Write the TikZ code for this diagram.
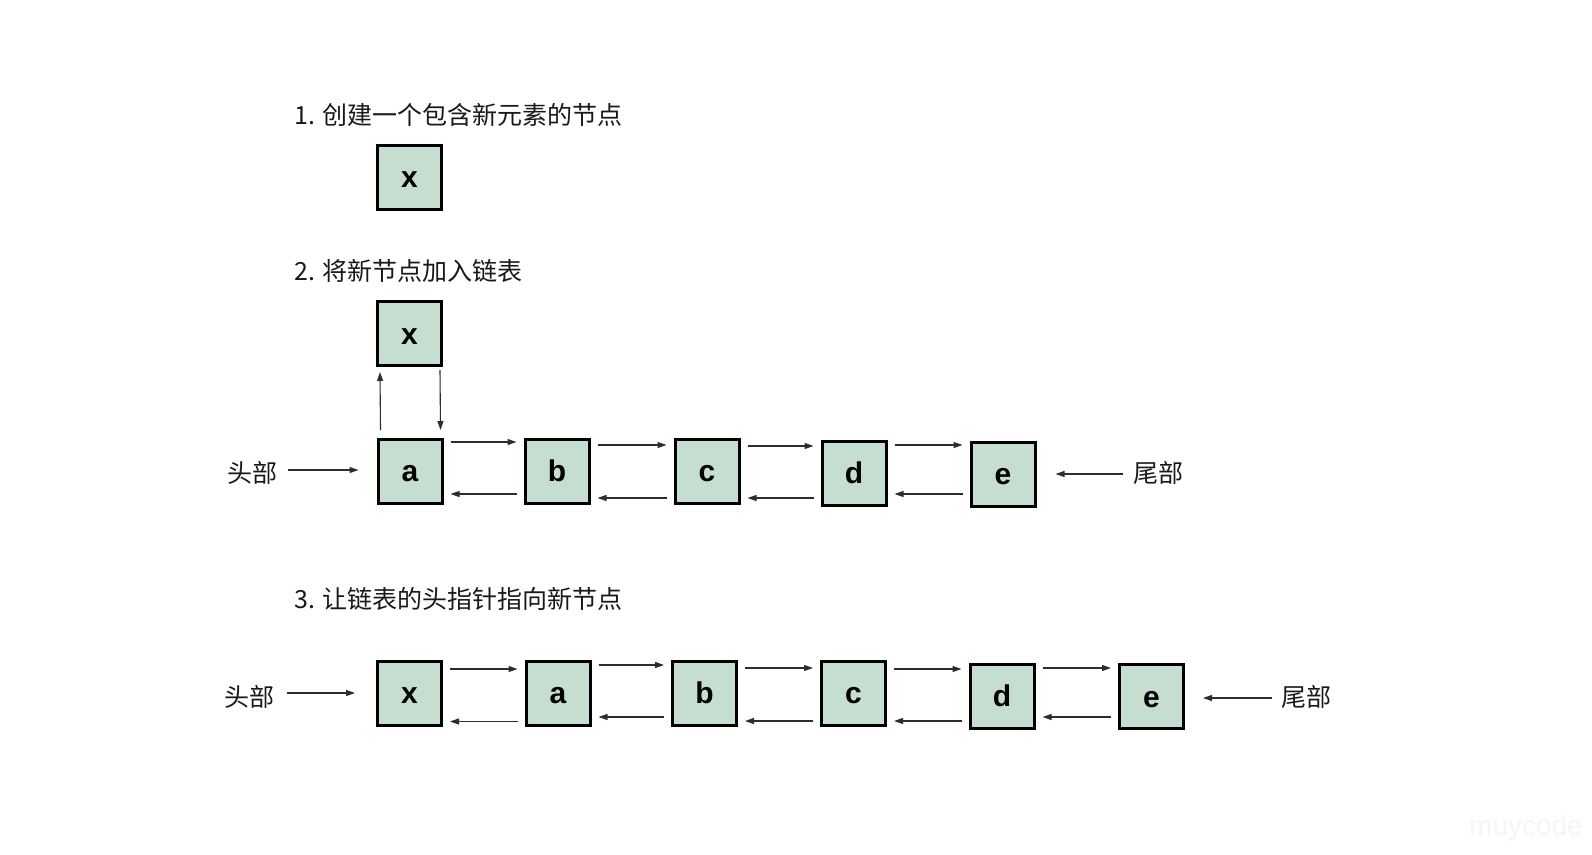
\documentclass[tikz,border=0pt]{standalone}
\usepackage{fontspec}
\usetikzlibrary{arrows.meta,calc}
\newfontfamily\cjk{Noto Sans CJK SC}
\newfontfamily\labfont{Liberation Sans}
\definecolor{boxfill}{RGB}{197,222,208}
\definecolor{arrowcol}{RGB}{45,45,45}
\tikzset{
  listbox/.style={draw=black, line width=3pt, fill=boxfill, minimum size=64pt, inner sep=0pt,
    text height=21pt, text depth=0pt,
    font=\labfont\bfseries\fontsize{30}{30}\selectfont},
  titletext/.style={anchor=west, inner sep=0pt, text=black!90, font=\cjk\fontsize{25}{25}\selectfont},
  sidetext/.style={inner sep=0pt, text=black!90, font=\cjk\fontsize{25}{25}\selectfont},
  arr/.style={draw=arrowcol, line width=1.1pt, -{Triangle[length=9pt,width=6pt]}}
}
% forward arrow: src, dst, offset below src top
\newcommand\fwd[3]{\draw[arr] ($(#1.north east)+(7,#3)$) -- ($(#1.north east -| #2.west)+(-7,#3)$);}
% backward arrow: left box, right box, offset above left box bottom
\newcommand\bwd[3]{\draw[arr] ($(#1.south east -| #2.west)+(-7,-#3)$) -- ($(#1.south east)+(7,-#3)$);}
\begin{document}
\begin{tikzpicture}[x=1pt,y=-1pt]
\useasboundingbox (0,0) rectangle (1592,854);
\fill[white] (0,0) rectangle (1592,854);

% step 1
\node[titletext] (t1) at (294,115) {1. 创建一个包含新元素的节点};
\node[listbox] (x1) at (409.5,177) {x};

% step 2
\node[titletext] (t2) at (294,271) {2. 将新节点加入链表};
\node[listbox] (x2) at (409.5,333.5) {x};
\node[listbox] (a2) at (410,471) {a};
\node[listbox] (b2) at (557,471) {b};
\node[listbox] (c2) at (707,471) {c};
\node[listbox] (d2) at (854,473) {d};
\node[listbox] (e2) at (1003,474) {e};

\draw[arr] ($(a2.north west)+(4,-7.5)$) -- ($(x2.south west)+(4,5)$);
\draw[arr] ($(x2.south east)+(-3,3)$) -- ($(a2.north east)+(-3,-7.5)$);
\fwd{a2}{b2}{4.5}
\fwd{b2}{c2}{7.5}
\fwd{c2}{d2}{8.5}
\fwd{d2}{e2}{5.5}
\bwd{a2}{b2}{10.5}
\bwd{b2}{c2}{6.5}
\bwd{c2}{d2}{6.5}
\bwd{d2}{e2}{12.5}

\node[sidetext] (h2) at (252,473) {头部};
\coordinate (h2t) at (288,470);
\draw[arr] (h2t) -- ($(a2.west)+(-18,-1)$);
\node[sidetext] (w2) at (1158,473) {尾部};
\coordinate (w2t) at (1123,474);
\draw[arr] (w2t) -- ($(e2.east)+(19,0)$);

% step 3
\node[titletext] (t3) at (294,599) {3. 让链表的头指针指向新节点};
\node[listbox] (x3) at (409.5,693) {x};
\node[listbox] (a3) at (558,693) {a};
\node[listbox] (b3) at (704.5,693) {b};
\node[listbox] (c3) at (853.5,693) {c};
\node[listbox] (d3) at (1002,696) {d};
\node[listbox] (e3) at (1151.5,696.5) {e};

\fwd{x3}{a3}{9.5}
\fwd{a3}{b3}{5.5}
\fwd{b3}{c3}{8.5}
\fwd{c3}{d3}{9.5}
\fwd{d3}{e3}{5.5}
\bwd{x3}{a3}{5}
\bwd{a3}{b3}{9.5}
\bwd{b3}{c3}{5.5}
\bwd{c3}{d3}{5.5}
\bwd{d3}{e3}{12.5}

\node[sidetext] (h3) at (249,697) {头部};
\coordinate (h3t) at (287,693);
\draw[arr] (h3t) -- ($(x3.west)+(-21,0)$);
\node[sidetext] (w3) at (1306,697) {尾部};
\coordinate (w3t) at (1272,698);
\draw[arr] (w3t) -- ($(e3.east)+(18,1.5)$);

% watermark
\node[inner sep=0pt, text=black!4, font=\labfont\fontsize{28}{28}\selectfont] (wm) at (1526,828) {muycode};
\end{tikzpicture}
\end{document}
